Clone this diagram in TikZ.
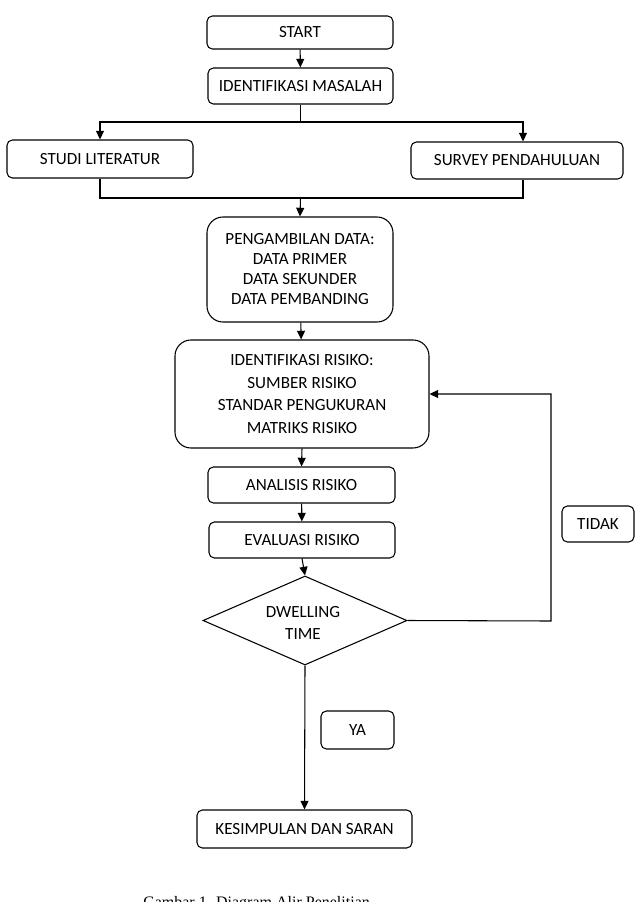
\documentclass[tikz,border=0pt]{standalone}
\usepackage{fontspec}
\setmainfont{Carlito}
\newfontfamily\capfont{Liberation Serif}
\usetikzlibrary{shapes.geometric,arrows.meta}
\begin{document}
\begin{tikzpicture}[x=0.75pt,y=-0.75pt,
  every node/.style={font=\fontsize{12.8}{15}\selectfont},
  box/.style={draw,line width=0.8pt,rounded corners=4pt,inner sep=0pt,align=center},
  bigbox/.style={draw,line width=0.8pt,rounded corners=12pt,inner sep=0pt,align=center},
  arr/.style={-{Triangle[width=6pt,length=6.5pt]},line width=0.8pt},
  ln/.style={line width=0.8pt}]
\useasboundingbox (0,0) rectangle (638,902);
\clip (0,0) rectangle (638,902);
\node[box,minimum width=139.5pt,minimum height=24.75pt] (start) at (300,32.5) {START};
\node[box,minimum width=138.75pt,minimum height=27pt] (im) at (300.5,86) {IDENTIFIKASI MASALAH};
\node[box,minimum width=139.5pt,minimum height=28.5pt] (studi) at (100,159) {STUDI LITERATUR};
\node[box,minimum width=159pt,minimum height=27.75pt] (survey) at (517,160.5) {SURVEY PENDAHULUAN};
\node[bigbox,minimum width=139.5pt,minimum height=78.75pt] (pd) at (300,269.5) {PENGAMBILAN DATA:\\DATA PRIMER\\DATA SEKUNDER\\DATA PEMBANDING};
\node[bigbox,minimum width=190.5pt,minimum height=81pt,font=\fontsize{12.8}{17.2}\selectfont] (ir) at (302,394) {IDENTIFIKASI RISIKO:\\SUMBER RISIKO\\STANDAR PENGUKURAN\\MATRIKS RISIKO};
\node[box,minimum width=140.25pt,minimum height=27pt] (an) at (301.5,485) {ANALISIS RISIKO};
\node[box,minimum width=139.5pt,minimum height=27pt] (ev) at (302,540) {EVALUASI RISIKO};
\node[diamond,draw,line width=0.8pt,inner sep=0pt,minimum width=153pt,minimum height=66.75pt] (dw) at (305,620.5) {};
\node[align=center,inner sep=0pt,font=\fontsize{12.8}{17}\selectfont] (dwt) at (303,623) {DWELLING\\TIME};
\node[box,minimum width=54pt,minimum height=27pt] (tidak) at (598,524) {TIDAK};
\node[box,minimum width=54.75pt,minimum height=28.5pt] (ya) at (357.5,730) {YA};
\node[box,minimum width=161.25pt,minimum height=28.5pt] (ks) at (304.5,829) {KESIMPULAN DAN SARAN};
\node[anchor=base west,inner sep=0pt,font=\capfont\fontsize{12}{14}\selectfont] (cap) at (143,907) {Gambar 1. Diagram Alir Penelitian};
\coordinate (split) at (300.5,122);
\coordinate (merge) at (300.5,198);
\coordinate (fb) at (551,621);
\draw[arr] (start) -- (im);
\draw[ln] (im.south) -- (split);
\draw[arr] (split) -| (studi.north);
\draw[arr] (split) -| ([xshift=4.5pt]survey.north);
\draw[ln] (studi.south) |- (merge);
\draw[ln] ([xshift=4.5pt]survey.south) |- (merge);
\draw[arr] (merge) -- (pd.north);
\draw[arr] (pd) -- (ir);
\draw[arr] (ir.south) -- (an.north);
\draw[arr] (an) -- (ev);
\draw[arr] (ev.south) -- (dw.north);
\draw[arr] (dw.south) -- (ks.north);
\draw[arr] (dw.east) -- (fb) |- (ir.east);
\end{tikzpicture}
\end{document}
